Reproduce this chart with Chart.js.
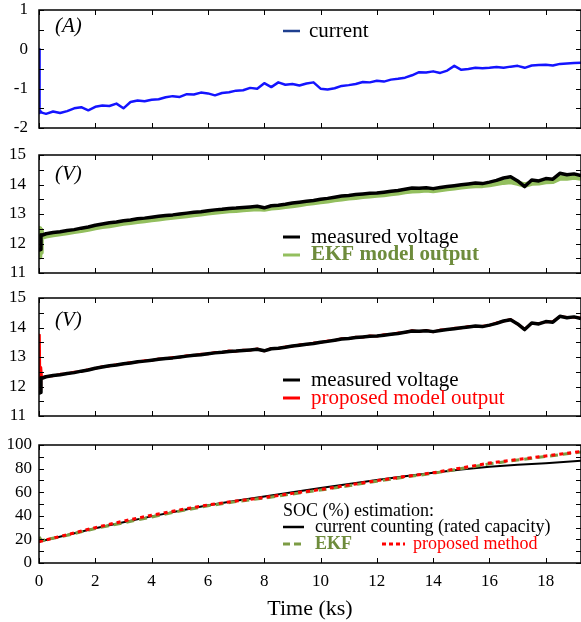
<!DOCTYPE html>
<html>
<head>
<meta charset="utf-8">
<script src="https://cdn.jsdelivr.net/npm/chart.js@4/dist/chart.umd.min.js"></script>
<style>
  body { margin: 0; background: #fff; }
  #wrap { position: relative; width: 581px; height: 622px; }
  #wrap canvas { position: absolute; left: 0; }
</style>
</head>
<body>
<div id="wrap">
  <canvas id="c1" width="581" height="140" style="top:0px"></canvas>
  <canvas id="c2" width="581" height="146" style="top:140px"></canvas>
  <canvas id="c3" width="581" height="140" style="top:286px"></canvas>
  <canvas id="c4" width="581" height="196" style="top:426px"></canvas>
</div>
<script>
// time axis (ks) for the measured signals
const timeKs = [0, 0.02, 0.04, 0.07, 0.1, 0.25, 0.5, 0.75, 1, 1.25, 1.5, 1.75, 2, 2.25, 2.5, 2.75, 3, 3.25, 3.5, 3.75,
  4, 4.25, 4.5, 4.75, 5, 5.25, 5.5, 5.75, 6, 6.25, 6.5, 6.75, 7, 7.25, 7.5, 7.75, 8, 8.25, 8.5, 8.75,
  9, 9.25, 9.5, 9.75, 10, 10.25, 10.5, 10.75, 11, 11.25, 11.5, 11.75, 12, 12.25, 12.5, 12.75, 13, 13.25, 13.5, 13.75,
  14, 14.25, 14.5, 14.75, 15, 15.25, 15.5, 15.75, 16, 16.25, 16.5, 16.75, 17, 17.25, 17.5, 17.75, 18, 18.25, 18.5, 18.75,
  19, 19.25];

// (A) current
const currentA = [0, -1.62, -1.60, -1.58, -1.61, -1.64, -1.58, -1.62, -1.57, -1.50, -1.47, -1.55, -1.46, -1.43, -1.44, -1.38,
  -1.50, -1.34, -1.30, -1.32, -1.28, -1.27, -1.22, -1.19, -1.21, -1.14, -1.15, -1.10, -1.12, -1.17, -1.11, -1.09,
  -1.05, -1.04, -0.98, -1.00, -0.86, -0.96, -0.84, -0.90, -0.88, -0.92, -0.87, -0.84, -1.00, -1.02, -0.99, -0.93,
  -0.91, -0.88, -0.83, -0.84, -0.80, -0.82, -0.77, -0.75, -0.72, -0.66, -0.58, -0.59, -0.56, -0.60, -0.54, -0.42,
  -0.52, -0.50, -0.47, -0.48, -0.47, -0.45, -0.47, -0.44, -0.42, -0.47, -0.41, -0.40, -0.39, -0.41, -0.37, -0.36,
  -0.35, -0.34];

// (V) measured terminal voltage
const measuredV = [11.80, 11.78, 11.80, 12.30, 12.28, 12.33, 12.37, 12.40, 12.44, 12.47, 12.52, 12.56, 12.62, 12.66, 12.70, 12.73,
  12.77, 12.80, 12.84, 12.86, 12.89, 12.92, 12.95, 12.97, 13.00, 13.03, 13.06, 13.08, 13.11, 13.14, 13.16, 13.19,
  13.20, 13.22, 13.24, 13.26, 13.21, 13.28, 13.30, 13.33, 13.37, 13.40, 13.43, 13.46, 13.50, 13.53, 13.57, 13.61,
  13.63, 13.66, 13.68, 13.70, 13.71, 13.74, 13.77, 13.80, 13.84, 13.88, 13.87, 13.89, 13.86, 13.90, 13.93, 13.96,
  13.99, 14.02, 14.05, 14.03, 14.08, 14.14, 14.22, 14.26, 14.12, 13.93, 14.15, 14.12, 14.20, 14.18, 14.38, 14.33,
  14.36, 14.30];

// (V) EKF model output
const ekfV = [11.55, 12.50, 11.70, 12.45, 12.22, 12.26, 12.30, 12.34, 12.37, 12.41, 12.45, 12.49, 12.54, 12.58, 12.61, 12.65,
  12.69, 12.72, 12.75, 12.78, 12.81, 12.84, 12.87, 12.90, 12.92, 12.95, 12.98, 13.01, 13.04, 13.07, 13.09, 13.12,
  13.13, 13.15, 13.17, 13.19, 13.17, 13.21, 13.23, 13.26, 13.29, 13.32, 13.36, 13.39, 13.42, 13.45, 13.49, 13.52,
  13.55, 13.57, 13.60, 13.62, 13.64, 13.66, 13.69, 13.72, 13.76, 13.79, 13.80, 13.82, 13.80, 13.83, 13.86, 13.89,
  13.92, 13.95, 13.97, 13.97, 14.00, 14.04, 14.08, 14.10, 14.05, 13.98, 14.05, 14.06, 14.10, 14.11, 14.22, 14.22,
  14.25, 14.22];

// (V) proposed model output
const proposedV = [11.80, 13.75, 11.90, 12.65, 12.30, 12.35, 12.36, 12.42, 12.43, 12.49, 12.51, 12.58, 12.61, 12.68, 12.69, 12.75,
  12.76, 12.82, 12.83, 12.88, 12.88, 12.94, 12.94, 12.99, 12.99, 13.05, 13.05, 13.10, 13.10, 13.16, 13.15, 13.21,
  13.19, 13.24, 13.23, 13.28, 13.20, 13.30, 13.29, 13.35, 13.36, 13.42, 13.42, 13.48, 13.49, 13.55, 13.56, 13.63,
  13.62, 13.68, 13.67, 13.72, 13.70, 13.76, 13.76, 13.82, 13.83, 13.90, 13.86, 13.91, 13.85, 13.92, 13.92, 13.98,
  13.98, 14.04, 14.04, 14.05, 14.07, 14.16, 14.21, 14.28, 14.11, 13.95, 14.14, 14.14, 14.19, 14.20, 14.37, 14.35,
  14.35, 14.32];

// SOC (%) estimation
const socTimeKs = [0, 0.1, 1, 2, 3, 4, 5, 6, 7, 8, 9, 10, 11, 12, 13, 14, 15, 16, 17, 18, 19, 19.25];
const socCounting = [18, 18.6, 23.8, 29.5, 34.5, 39.5, 44.3, 49.0, 52.8, 56.3, 60.0, 63.6, 67.0, 70.3, 73.5, 76.5, 79.2, 81.6, 83.2, 84.6, 86.2, 86.7];
const socEkf = [22, 19.0, 23.5, 29.3, 34.0, 39.0, 44.0, 48.5, 52.0, 55.0, 58.5, 61.8, 65.5, 69.3, 72.8, 76.0, 80.0, 84.0, 87.3, 90.3, 93.3, 94.0];
const socProposed = [18, 18.7, 24.0, 30.0, 35.5, 40.5, 45.0, 49.2, 52.5, 55.5, 59.0, 62.3, 66.0, 69.8, 73.3, 76.5, 80.5, 84.7, 87.8, 90.7, 93.8, 94.6];

const xMin = 0, xMax = 19.25, xStep = 2;

Chart.defaults.font.family = '"Liberation Serif", "Times New Roman", serif';
Chart.defaults.font.size = 17;
Chart.defaults.color = '#000';

function pts(xs, ys) { return xs.map((t, i) => ({ x: t, y: ys[i] })); }

// box frame with inward ticks on all four sides
const framePlugin = {
  id: 'frame',
  afterDatasetsDraw(chart) {
    const { ctx, chartArea: a, scales: { x, y } } = chart;
    ctx.save();
    ctx.strokeStyle = '#000';
    ctx.lineWidth = 1;
    ctx.beginPath();
    x.ticks.forEach(t => {
      const px = Math.round(x.getPixelForValue(t.value)) + 0.5;
      ctx.moveTo(px, a.bottom); ctx.lineTo(px, a.bottom - 5);
      ctx.moveTo(px, a.top); ctx.lineTo(px, a.top + 5);
    });
    y.ticks.forEach(t => {
      const py = Math.round(y.getPixelForValue(t.value)) + 0.5;
      ctx.moveTo(a.left, py); ctx.lineTo(a.left + 5, py);
      ctx.moveTo(a.right, py); ctx.lineTo(a.right - 5, py);
    });
    ctx.stroke();
    ctx.lineWidth = 1.5;
    ctx.strokeRect(a.left, a.top, a.right - a.left, a.bottom - a.top);
    ctx.restore();
  }
};

// panel labels and hand placed legends
const notesPlugin = {
  id: 'notes',
  afterDraw(chart, args, opts) {
    const ctx = chart.ctx;
    ctx.save();
    (opts.items || []).forEach(it => {
      if (it.line) {
        ctx.beginPath();
        ctx.strokeStyle = it.line.color;
        ctx.lineWidth = it.line.width || 2.5;
        ctx.setLineDash(it.line.dash || []);
        ctx.moveTo(it.line.x1, it.y);
        ctx.lineTo(it.line.x2, it.y);
        ctx.stroke();
        ctx.setLineDash([]);
      }
      if (it.text) {
        ctx.font = it.font || '21px "Liberation Serif"';
        ctx.fillStyle = it.color || '#000';
        ctx.textAlign = 'left';
        ctx.textBaseline = 'middle';
        ctx.fillText(it.text, it.x, it.y);
      }
    });
    ctx.restore();
  }
};

function makeChart(id, datasets, cfg) {
  return new Chart(document.getElementById(id), {
    type: 'line',
    data: { datasets },
    plugins: [framePlugin, notesPlugin],
    options: {
      responsive: false,
      animation: false,
      events: [],
      layout: { padding: { top: cfg.padTop, left: 0, right: 0, bottom: 0 } },
      elements: { point: { radius: 0 }, line: { tension: 0, borderJoinStyle: 'round' } },
      plugins: { legend: { display: false }, tooltip: { enabled: false }, notes: { items: cfg.notes } },
      scales: {
        x: {
          type: 'linear', min: xMin, max: xMax,
          grid: { display: false, drawTicks: false }, border: { display: false },
          ticks: { stepSize: xStep, includeBounds: false, autoSkip: false, display: !!cfg.xLabels, padding: 8, maxRotation: 0 },
          title: cfg.xTitle ? { display: true, text: cfg.xTitle, font: { size: 22 }, padding: { top: 4, bottom: 0 } } : { display: false },
          afterFit: s => { s.height = cfg.xHeight; s.paddingLeft = 0; s.paddingRight = 0; }
        },
        y: {
          min: cfg.yMin, max: cfg.yMax,
          grid: { display: false, drawTicks: false }, border: { display: false },
          ticks: { stepSize: cfg.yStep, autoSkip: false, padding: cfg.yPad, callback: cfg.yLabel },
          // fixed box so all four panels share the same plot area
          afterFit: s => { s.width = 39; s.paddingTop = 0; s.paddingBottom = 0; }
        }
      }
    }
  });
}

const everyOne = v => Number.isInteger(v) ? v : '';
const every20 = v => v % 20 === 0 ? v : '';
const italic = 'italic 21px "Liberation Serif"';
const serif21 = '21px "Liberation Serif"';
const serif18 = '18px "Liberation Serif"';

makeChart('c1', [
  { data: pts(timeKs, currentA), borderColor: '#1414ff', borderWidth: 2.5 }
], {
  padTop: 10, xHeight: 12, yMin: -2, yMax: 1, yStep: 0.5, yPad: 11, yLabel: everyOne,
  notes: [
    { text: '(A)', x: 55, y: 26, font: italic },
    { text: 'current', x: 309, y: 31, font: serif21, line: { x1: 283, x2: 300, color: '#1f3f8f' } }
  ]
});

makeChart('c2', [
  { data: pts(timeKs, measuredV), borderColor: '#000', borderWidth: 3.5, order: 0 },
  { data: pts(timeKs, ekfV), borderColor: '#93bf5e', borderWidth: 5.5, order: 1 }
], {
  padTop: 15, xHeight: 13, yMin: 11, yMax: 15, yStep: 0.5, yPad: 13, yLabel: everyOne,
  notes: [
    { text: '(V)', x: 55, y: 34, font: italic },
    { text: 'measured voltage', x: 311, y: 97, font: serif21, line: { x1: 283, x2: 300, color: '#000', width: 3 } },
    { text: 'EKF model output', x: 311, y: 115, font: 'bold 21px "Liberation Serif"', color: '#6e8c3c', line: { x1: 283, x2: 300, color: '#93bf5e', width: 3 } }
  ]
});

makeChart('c3', [
  { data: pts(timeKs, measuredV), borderColor: '#000', borderWidth: 3.5, order: 0 },
  { data: pts(timeKs, proposedV), borderColor: '#ff0000', borderWidth: 2.5, order: 1 }
], {
  padTop: 12, xHeight: 10, yMin: 11, yMax: 15, yStep: 0.5, yPad: 13, yLabel: everyOne,
  notes: [
    { text: '(V)', x: 55, y: 34, font: italic },
    { text: 'measured voltage', x: 311, y: 94, font: serif21, line: { x1: 283, x2: 300, color: '#000', width: 3 } },
    { text: 'proposed model output', x: 311, y: 112, font: serif21, color: '#ff0000', line: { x1: 283, x2: 300, color: '#ff0000', width: 3 } }
  ]
});

makeChart('c4', [
  { data: pts(socTimeKs, socCounting), borderColor: '#000', borderWidth: 2, order: 2 },
  { data: pts(socTimeKs, socEkf), borderColor: '#7c9c44', borderWidth: 3, borderDash: [8, 5], order: 1 },
  { data: pts(socTimeKs, socProposed), borderColor: '#ff0000', borderWidth: 3, borderDash: [4, 4], order: 0 }
], {
  padTop: 19, xHeight: 59, yMin: 0, yMax: 100, yStep: 10, yPad: 7, yLabel: every20, xLabels: true, xTitle: 'Time (ks)',
  notes: [
    { text: 'SOC (%) estimation:', x: 283, y: 85, font: serif18 },
    { text: 'current counting (rated capacity)', x: 315, y: 101, font: serif18, line: { x1: 283, x2: 304, color: '#000', width: 2.5 } },
    { text: 'EKF', x: 315, y: 118, font: 'bold 18px "Liberation Serif"', color: '#6e8c3c', line: { x1: 283, x2: 305, color: '#7c9c44', width: 3, dash: [7, 4] } },
    { text: 'proposed method', x: 413, y: 118, font: serif18, color: '#ff0000', line: { x1: 382, x2: 405, color: '#ff0000', width: 3, dash: [4, 3] } }
  ]
});
</script>
</body>
</html>
